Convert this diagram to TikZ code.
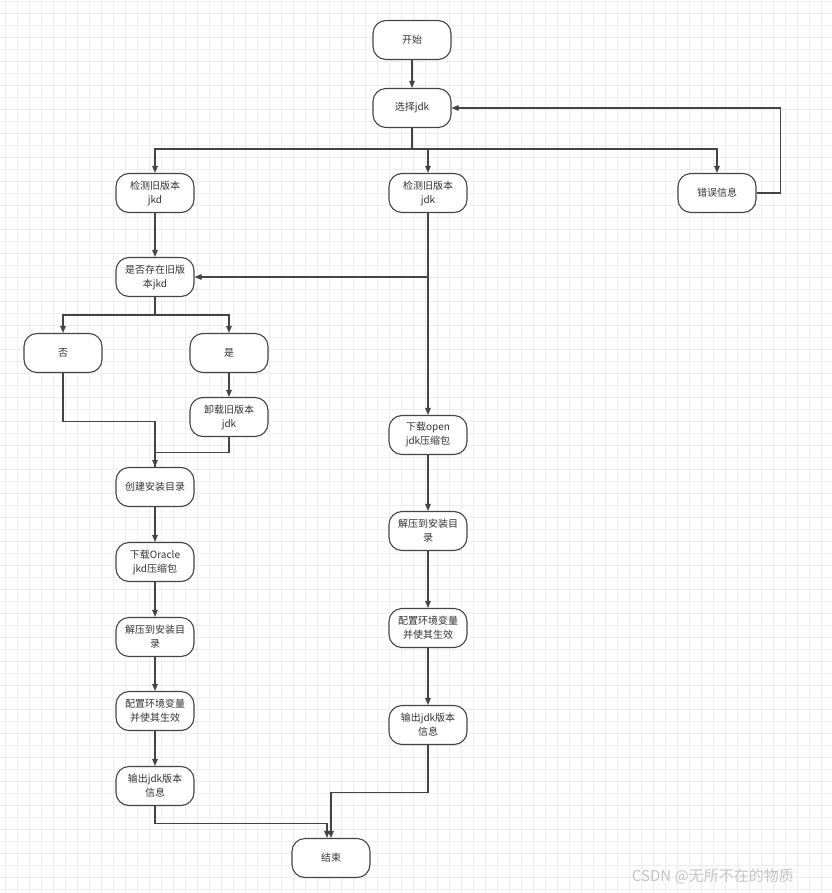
\documentclass[tikz,border=0pt]{standalone}
\usepackage{fontspec}
\setmainfont{Noto Sans CJK SC}
\usetikzlibrary{arrows.meta}
\definecolor{gridc}{HTML}{EDEDED}
\definecolor{linec}{HTML}{444444}
\definecolor{txtc}{HTML}{333333}
\definecolor{wmc}{HTML}{C4C4C4}
\tikzset{
  box/.style={draw=linec, line width=1.1pt, fill=white, rounded corners=13pt,
    minimum width=78pt, minimum height=39pt, inner sep=2pt, align=center,
    text=txtc, font=\fontsize{10}{14}\selectfont},
  arr/.style={draw=linec, line width=1.1pt, -{Triangle[length=7pt,width=5.5pt]}},
  ln/.style={draw=linec, line width=1.1pt}
}
\begin{document}
\begin{tikzpicture}[x=1pt,y=-1pt]
\useasboundingbox (0,0) rectangle (831,893);
\fill[white] (0,0) rectangle (831,893);
\foreach \i in {0,...,69} {\draw[gridc, line width=0.8pt] (5+12*\i,0) -- (5+12*\i,893);}
\foreach \j in {0,...,74} {\draw[gridc, line width=0.8pt] (0,1+12*\j) -- (831,1+12*\j);}

\node[box] (start) at (412,40) {开始};
\node[box] (sel) at (412,108) {选择jdk};
\node[box] (chk1) at (155,193) {检测旧版本\\jkd};
\node[box] (chk2) at (428,193) {检测旧版本\\jdk};
\node[box] (err) at (717,193) {错误信息};
\node[box] (exist) at (155,277) {是否存在旧版\\本jkd};
\node[box] (no) at (63,353) {否};
\node[box] (yes) at (229,353) {是};
\node[box] (unin) at (229,417) {卸载旧版本\\jdk};
\node[box] (create) at (155,487) {创建安装目录};
\node[box] (dl1) at (155,562) {下载Oracle\\jkd压缩包};
\node[box] (unz1) at (155,637) {解压到安装目\\录};
\node[box] (cfg1) at (155,711) {配置环境变量\\并使其生效};
\node[box] (out1) at (155,786) {输出jdk版本\\信息};
\node[box] (dl2) at (428,435) {下载open\\jdk压缩包};
\node[box] (unz2) at (428,531) {解压到安装目\\录};
\node[box] (cfg2) at (428,628) {配置环境变量\\并使其生效};
\node[box] (out2) at (428,725) {输出jdk版本\\信息};
\node[box] (end) at (331,858) {结束};

\coordinate (bus) at (0,149);
\coordinate (split) at (0,315);

\draw[arr] (start) -- (sel);
\draw[ln] (sel.south) -- (sel.south |- bus);
\draw[arr] (sel.south |- bus) -| (chk1.north);
\draw[arr] (sel.south |- bus) -| (chk2.north);
\draw[arr] (sel.south |- bus) -| (err.north);
\draw[arr] (err.east) -- ++(24,0) |- (sel.east);

\draw[arr] (chk1) -- (exist);
\draw[arr] (chk2.south) |- (exist.east);
\draw[arr] (chk2.south) -- (dl2.north);

\draw[ln] (exist.south) -- (exist.south |- split);
\draw[arr] (exist.south |- split) -| (no.north);
\draw[arr] (exist.south |- split) -| (yes.north);
\draw[arr] (yes) -- (unin);
\draw[arr] (no.south) -- ++(0,48) -| (create.north);
\draw[ln] (unin.south) -- ++(0,15) -| (create.north);

\draw[arr] (create) -- (dl1);
\draw[arr] (dl1) -- (unz1);
\draw[arr] (unz1) -- (cfg1);
\draw[arr] (cfg1) -- (out1);

\draw[arr] (dl2) -- (unz2);
\draw[arr] (unz2) -- (cfg2);
\draw[arr] (cfg2) -- (out2);

\draw[arr] (out1.south) -- ++(0,17) -| ([xshift=-4pt]end.north);
\draw[arr] (out2.south) -- ++(0,47) -| (end.north);

\node[anchor=east, text=wmc, font=\fontsize{15}{18}\selectfont, inner sep=0pt] (wm) at (794,876) {CSDN @无所不在的物质};
\end{tikzpicture}
\end{document}
